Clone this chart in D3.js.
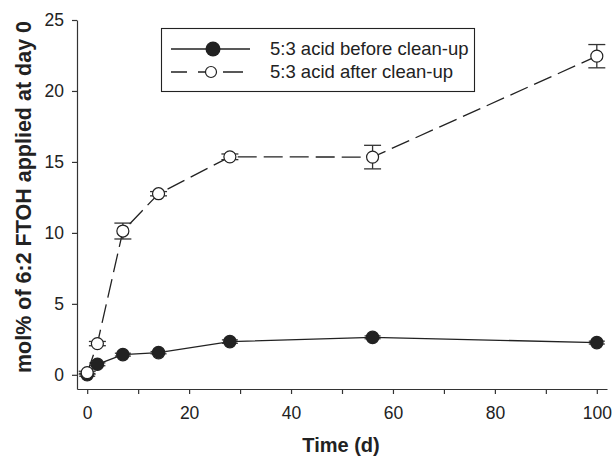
<!DOCTYPE html>
<html>
<head>
<meta charset="utf-8">
<script src="https://cdn.jsdelivr.net/npm/d3@7"></script>
<style>
  body { margin: 0; background: #fff; }
  svg { font-family: "Liberation Sans", Arial, sans-serif; }
</style>
</head>
<body>
<div id="chart"></div>
<script>
// time points (days)
const days = [0, 2, 7, 14, 28, 56, 100];

// 5:3 acid before clean-up (filled)
const beforeVals = [0.0, 0.74, 1.42, 1.56, 2.34, 2.64, 2.27];
const beforeErr = [0.1, 0.1, 0.1, 0.08, 0.12, 0.1, 0.1];

// 5:3 acid after clean-up (open)
const afterVals = [0.15, 2.2, 10.13, 12.76, 15.36, 15.34, 22.45];
const afterErr = [0.1, 0.15, 0.56, 0.15, 0.2, 0.83, 0.82];

const xTicks = [0, 20, 40, 60, 80, 100];
const xMinor = [10, 30, 50, 70, 90];
const yTicks = [0, 5, 10, 15, 20, 25];

const legendLabels = ["5:3 acid before clean-up", "5:3 acid after clean-up"];

const width = 614;
const height = 457;
const ink = "#222";

const x = d3.scaleLinear().domain([-2, 102]).range([77, 607]);
const y = d3.scaleLinear().domain([-1, 25]).range([389, 20]);

const svg = d3.select("#chart")
  .append("svg")
  .attr("width", width)
  .attr("height", height);

// axes
const xAxis = svg.append("g")
  .attr("transform", `translate(0, ${y.range()[0]})`)
  .call(d3.axisBottom(x).tickValues(xTicks).tickSize(5).tickSizeOuter(0).tickPadding(10));

svg.append("g")
  .attr("transform", `translate(0, ${y.range()[0]})`)
  .call(d3.axisBottom(x).tickValues(xMinor).tickSize(5).tickSizeOuter(0).tickFormat(""))
  .select(".domain").remove();

const yAxis = svg.append("g")
  .attr("transform", `translate(${x.range()[0]}, 0)`)
  .call(d3.axisLeft(y).tickValues(yTicks).tickSize(5).tickSizeOuter(0).tickPadding(8));

svg.selectAll(".domain, .tick line")
  .attr("stroke", "#333")
  .attr("stroke-width", 1.2);
svg.selectAll(".tick text")
  .attr("fill", "#222")
  .style("font-size", "17.5px");
xAxis.selectAll(".tick text").attr("dy", "0.85em");

// axis titles
svg.append("text")
  .attr("x", 341)
  .attr("y", 452)
  .attr("text-anchor", "middle")
  .style("font-size", "20px")
  .style("font-weight", "bold")
  .attr("fill", "#222")
  .text("Time (d)");

svg.append("text")
  .attr("transform", "translate(31, 197) rotate(-90)")
  .attr("text-anchor", "middle")
  .style("font-size", "21.5px")
  .style("font-weight", "bold")
  .attr("fill", "#222")
  .text("mol% of 6:2 FTOH applied at day 0");

function drawSeries(vals, errs, opts) {
  const pts = days.map((d, i) => ({ t: d, v: vals[i], e: errs[i] }));
  const line = d3.line().x(d => x(d.t)).y(d => y(d.v));

  svg.append("path")
    .datum(pts)
    .attr("d", line)
    .attr("fill", "none")
    .attr("stroke", ink)
    .attr("stroke-width", 1.3)
    .attr("stroke-dasharray", opts.dash || null);

  const g = svg.append("g");
  const bars = g.selectAll("g.err")
    .data(pts)
    .enter()
    .append("g")
    .attr("class", "err")
    .attr("stroke", "#333")
    .attr("stroke-width", 1.3);

  bars.append("line")
    .attr("x1", d => x(d.t)).attr("x2", d => x(d.t))
    .attr("y1", d => y(d.v - d.e)).attr("y2", d => y(d.v + d.e));
  bars.append("line")
    .attr("x1", d => x(d.t) - opts.cap).attr("x2", d => x(d.t) + opts.cap)
    .attr("y1", d => y(d.v + d.e)).attr("y2", d => y(d.v + d.e));
  bars.append("line")
    .attr("x1", d => x(d.t) - opts.cap).attr("x2", d => x(d.t) + opts.cap)
    .attr("y1", d => y(d.v - d.e)).attr("y2", d => y(d.v - d.e));

  g.selectAll("circle")
    .data(pts)
    .enter()
    .append("circle")
    .attr("cx", d => x(d.t))
    .attr("cy", d => y(d.v))
    .attr("r", opts.r)
    .attr("fill", opts.fill)
    .attr("stroke", ink)
    .attr("stroke-width", 1.2);
}

drawSeries(beforeVals, beforeErr, { fill: ink, r: 6.2, cap: 8 });
drawSeries(afterVals, afterErr, { fill: "#fff", r: 6, cap: 8.5, dash: "19,7" });

// legend
const legend = svg.append("g");
legend.append("rect")
  .attr("x", 161.5)
  .attr("y", 28.5)
  .attr("width", 313)
  .attr("height", 63)
  .attr("fill", "#fff")
  .attr("stroke", ink)
  .attr("stroke-width", 1.1);

legend.append("line")
  .attr("x1", 171).attr("x2", 250)
  .attr("y1", 49).attr("y2", 49)
  .attr("stroke", ink).attr("stroke-width", 1.3);
legend.append("circle")
  .attr("cx", 213).attr("cy", 49).attr("r", 7.5)
  .attr("fill", ink);

legend.append("line")
  .attr("x1", 171).attr("x2", 243)
  .attr("y1", 72).attr("y2", 72)
  .attr("stroke", ink).attr("stroke-width", 1.3)
  .attr("stroke-dasharray", "16,11,7,18,20");
legend.append("circle")
  .attr("cx", 211).attr("cy", 72).attr("r", 5.5)
  .attr("fill", "#fff").attr("stroke", ink).attr("stroke-width", 1.2);

legend.selectAll("text")
  .data(legendLabels)
  .enter()
  .append("text")
  .attr("x", 270)
  .attr("y", (d, i) => 49 + i * 23)
  .attr("dy", "0.35em")
  .style("font-size", "18.5px")
  .attr("fill", "#222")
  .text(d => d);
</script>
</body>
</html>
